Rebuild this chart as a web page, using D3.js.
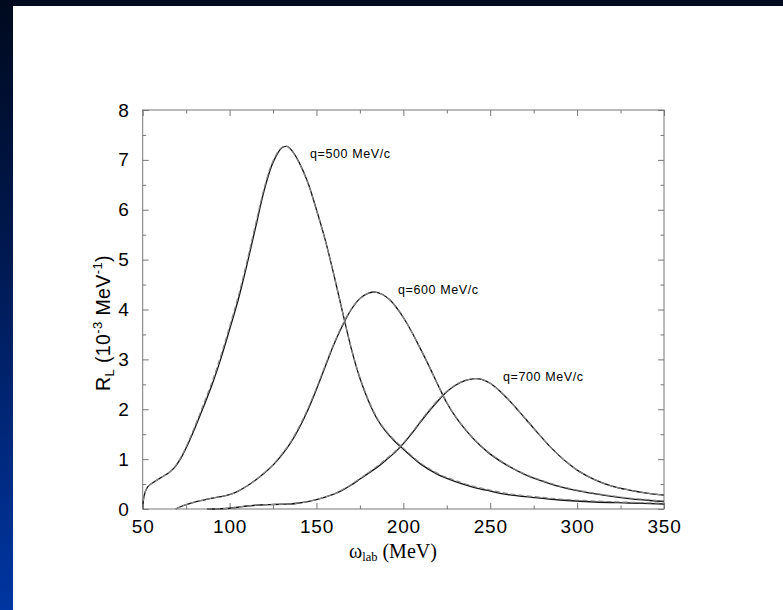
<!DOCTYPE html>
<html>
<head>
<meta charset="utf-8">
<script src="https://cdn.jsdelivr.net/npm/d3@7/dist/d3.min.js"></script>
<style>
  html, body { margin: 0; padding: 0; background: #ffffff; }
  svg { display: block; }
</style>
</head>
<body>
<svg id="chart" width="783" height="610"></svg>
<script>
// Longitudinal response R_L versus lab energy transfer, three momentum transfers.
// Each q has a full (solid) and an approximate (dashed) calculation.

const omega500 = [50, 50.5, 51.5, 53, 56, 60, 64, 68, 72, 76, 80, 85, 90, 95, 100, 105, 110, 115, 120, 125, 130, 133, 136, 140, 145, 150, 155, 160, 165, 170, 175, 180, 185, 190, 195, 200, 210, 220, 230, 240, 250, 260, 275, 290, 310, 330, 350];
const rl500Solid = [0, 0.2, 0.35, 0.45, 0.53, 0.62, 0.7, 0.82, 1.02, 1.3, 1.62, 2.05, 2.5, 3.02, 3.6, 4.2, 4.9, 5.65, 6.4, 6.95, 7.24, 7.27, 7.18, 6.95, 6.55, 6.0, 5.4, 4.7, 3.95, 3.22, 2.62, 2.16, 1.8, 1.55, 1.36, 1.2, 0.9, 0.69, 0.55, 0.44, 0.36, 0.29, 0.23, 0.18, 0.14, 0.12, 0.10];
const rl500Dashed = [0, 0.2, 0.35, 0.45, 0.53, 0.62, 0.7, 0.83, 1.04, 1.33, 1.66, 2.1, 2.56, 3.08, 3.66, 4.27, 4.97, 5.72, 6.45, 6.98, 7.25, 7.27, 7.17, 6.94, 6.54, 5.99, 5.39, 4.69, 3.95, 3.23, 2.64, 2.18, 1.82, 1.57, 1.38, 1.22, 0.92, 0.71, 0.57, 0.46, 0.38, 0.31, 0.25, 0.2, 0.16, 0.135, 0.115];

const omega600 = [69, 72, 76, 80, 85, 90, 95, 100, 105, 110, 115, 120, 125, 130, 135, 140, 145, 150, 155, 160, 165, 170, 175, 180, 184, 188, 192, 196, 200, 205, 210, 215, 220, 225, 230, 235, 240, 245, 250, 260, 270, 280, 290, 300, 315, 330, 350];
const rl600Solid = [0, 0.05, 0.1, 0.14, 0.18, 0.22, 0.25, 0.29, 0.36, 0.46, 0.58, 0.72, 0.88, 1.08, 1.32, 1.62, 1.98, 2.4, 2.85, 3.3, 3.68, 4.0, 4.22, 4.33, 4.35, 4.3, 4.2, 4.04, 3.84, 3.54, 3.2, 2.85, 2.48, 2.13, 1.85, 1.62, 1.42, 1.25, 1.1, 0.87, 0.69, 0.56, 0.45, 0.37, 0.28, 0.21, 0.15];
const rl600Dashed = [0, 0.05, 0.1, 0.14, 0.18, 0.22, 0.25, 0.29, 0.36, 0.46, 0.58, 0.73, 0.89, 1.1, 1.34, 1.65, 2.01, 2.43, 2.88, 3.32, 3.7, 4.01, 4.22, 4.33, 4.35, 4.3, 4.2, 4.04, 3.84, 3.54, 3.2, 2.85, 2.48, 2.14, 1.86, 1.63, 1.43, 1.26, 1.11, 0.88, 0.7, 0.57, 0.46, 0.38, 0.29, 0.22, 0.16];

const omega700 = [87, 95, 100, 105, 110, 115, 120, 125, 130, 135, 140, 145, 150, 155, 160, 165, 170, 175, 180, 185, 190, 195, 200, 205, 210, 215, 220, 225, 230, 235, 240, 245, 250, 255, 260, 265, 270, 275, 280, 285, 290, 295, 300, 310, 320, 330, 340, 350];
const rl700Solid = [0, 0.005, 0.015, 0.035, 0.06, 0.075, 0.085, 0.09, 0.095, 0.1, 0.12, 0.15, 0.19, 0.24, 0.3, 0.38, 0.48, 0.6, 0.72, 0.84, 0.98, 1.13, 1.31, 1.52, 1.75, 1.97, 2.17, 2.35, 2.48, 2.57, 2.61, 2.6, 2.52, 2.38, 2.21, 2.02, 1.82, 1.62, 1.42, 1.23, 1.06, 0.91, 0.78, 0.59, 0.46, 0.38, 0.32, 0.28];
const rl700Dashed = [0, 0.005, 0.015, 0.035, 0.06, 0.075, 0.085, 0.09, 0.095, 0.1, 0.12, 0.15, 0.19, 0.24, 0.3, 0.39, 0.49, 0.61, 0.73, 0.86, 1.0, 1.15, 1.33, 1.54, 1.77, 1.99, 2.19, 2.36, 2.49, 2.57, 2.61, 2.6, 2.52, 2.38, 2.21, 2.02, 1.82, 1.62, 1.42, 1.23, 1.06, 0.91, 0.78, 0.59, 0.46, 0.38, 0.32, 0.28];

const curveLabels = ["q=500 MeV/c", "q=600 MeV/c", "q=700 MeV/c"];
const curveLabelAt = [[130, 7.27], [184, 4.35], [240, 2.61]];   // peak each label sits beside

const xTicks = [50, 100, 150, 200, 250, 300, 350];
const xMinorTicks = [75, 125, 175, 225, 275, 325];
const yTicks = [0, 1, 2, 3, 4, 5, 6, 7, 8];
const yMinorTicks = [0.5, 1.5, 2.5, 3.5, 4.5, 5.5, 6.5, 7.5];

const W = 783, H = 610;
const plot = { left: 142.7, right: 664, top: 110, bottom: 509 };

const svg = d3.select("#chart");

// slide backdrop: dark band on top, blue gradient strip on the left
const defs = svg.append("defs");
const grad = defs.append("linearGradient").attr("id", "sideGrad")
  .attr("x1", 0).attr("y1", 0).attr("x2", 0).attr("y2", 1);
grad.append("stop").attr("offset", "0%").attr("stop-color", "#000a1e");
grad.append("stop").attr("offset", "45%").attr("stop-color", "#001a55");
grad.append("stop").attr("offset", "100%").attr("stop-color", "#0036a2");

svg.append("rect").attr("width", W).attr("height", H).attr("fill", "#ffffff");
svg.append("rect").attr("x", 0).attr("y", 0).attr("width", W).attr("height", 6).attr("fill", "#000a1e");
svg.append("rect").attr("x", 0).attr("y", 0).attr("width", 13).attr("height", H).attr("fill", "url(#sideGrad)");

const x = d3.scaleLinear().domain([50, 350]).range([plot.left, plot.right]);
const y = d3.scaleLinear().domain([0, 8]).range([plot.bottom, plot.top]);

const tickColor = "#777";
const labelFont = "'Liberation Sans', Arial, Helvetica, sans-serif";

function styleAxis(g) {
  g.select(".domain").remove();
  g.selectAll(".tick line").attr("stroke", tickColor).attr("stroke-width", 1);
  g.selectAll(".tick text").attr("fill", "#000").attr("font-family", labelFont)
    .attr("font-size", 19).attr("letter-spacing", "0.8px");
}

// major ticks with labels (bottom, left), inward ticks on all four sides
svg.append("g").attr("transform", `translate(0,${plot.bottom})`)
  .call(d3.axisBottom(x).tickValues(xTicks).tickSize(-6).tickPadding(10.5).tickFormat(d3.format("d")))
  .call(styleAxis);
svg.append("g").attr("transform", `translate(${plot.left},0)`)
  .call(d3.axisLeft(y).tickValues(yTicks).tickSize(-6).tickPadding(13).tickFormat(d3.format("d")))
  .call(styleAxis);
svg.append("g").attr("transform", `translate(0,${plot.top})`)
  .call(d3.axisTop(x).tickValues(xTicks).tickSize(-6).tickFormat(""))
  .call(styleAxis);
svg.append("g").attr("transform", `translate(${plot.right},0)`)
  .call(d3.axisRight(y).tickValues(yTicks).tickSize(-6).tickFormat(""))
  .call(styleAxis);

// minor ticks
svg.append("g").attr("transform", `translate(0,${plot.bottom})`)
  .call(d3.axisBottom(x).tickValues(xMinorTicks).tickSize(-3.5).tickFormat(""))
  .call(styleAxis);
svg.append("g").attr("transform", `translate(0,${plot.top})`)
  .call(d3.axisTop(x).tickValues(xMinorTicks).tickSize(-3.5).tickFormat(""))
  .call(styleAxis);
svg.append("g").attr("transform", `translate(${plot.left},0)`)
  .call(d3.axisLeft(y).tickValues(yMinorTicks).tickSize(-3.5).tickFormat(""))
  .call(styleAxis);
svg.append("g").attr("transform", `translate(${plot.right},0)`)
  .call(d3.axisRight(y).tickValues(yMinorTicks).tickSize(-3.5).tickFormat(""))
  .call(styleAxis);

// frame
svg.append("rect")
  .attr("x", plot.left).attr("y", plot.top)
  .attr("width", plot.right - plot.left).attr("height", plot.bottom - plot.top)
  .attr("fill", "none").attr("stroke", tickColor).attr("stroke-width", 1);

// curves
const line = d3.line().x(d => x(d[0])).y(d => y(d[1])).curve(d3.curveCatmullRom.alpha(0.5));
const series = [
  [omega500, rl500Solid, rl500Dashed],
  [omega600, rl600Solid, rl600Dashed],
  [omega700, rl700Solid, rl700Dashed]
];
const curves = svg.append("g").attr("fill", "none");
series.forEach(([om, solid]) => {
  curves.append("path").datum(om.map((w, i) => [w, solid[i]]))
    .attr("d", line).attr("stroke", "#111").attr("stroke-width", 1.3);
});
series.forEach(([om, , dashed]) => {
  curves.append("path").datum(om.map((w, i) => [w, dashed[i]]))
    .attr("d", line).attr("stroke", "#8a8a8a").attr("stroke-width", 1.2)
    .attr("stroke-dasharray", "5,3");
});

// curve labels, placed to the right of each peak
const labelOffset = [[310 - x(130), 158 - y(7.27)], [398 - x(184), 294 - y(4.35)], [503 - x(240), 381 - y(2.61)]];
svg.append("g").selectAll("text").data(curveLabels).join("text")
  .attr("x", (d, i) => x(curveLabelAt[i][0]) + labelOffset[i][0])
  .attr("y", (d, i) => y(curveLabelAt[i][1]) + labelOffset[i][1])
  .attr("font-family", labelFont).attr("font-size", 12.5).attr("letter-spacing", "0.6px")
  .attr("fill", "#000").text(d => d);

// x-axis title: ω_lab (MeV)
const xt = svg.append("text").attr("x", 349).attr("y", 558)
  .attr("font-family", "'Liberation Serif', 'Times New Roman', serif").attr("font-size", 20).attr("fill", "#000");
xt.append("tspan").text("ω");
xt.append("tspan").attr("font-size", 12.5).attr("dy", 3).text("lab");
xt.append("tspan").attr("dy", -3).text(" (MeV)");

// y-axis title: R_L (10^-3 MeV^-1)
const yt = svg.append("text").attr("transform", "translate(110,323) rotate(-90)")
  .attr("text-anchor", "middle").attr("font-family", labelFont).attr("font-size", 19.5)
  .attr("letter-spacing", "0.4px").attr("fill", "#000");
yt.append("tspan").text("R");
yt.append("tspan").attr("font-size", 13).attr("dy", 4).text("L");
yt.append("tspan").attr("dy", -4).text(" (10");
yt.append("tspan").attr("font-size", 13).attr("dy", -8).text("-3");
yt.append("tspan").attr("dy", 8).text(" MeV");
yt.append("tspan").attr("font-size", 13).attr("dy", -8).text("-1");
yt.append("tspan").attr("dy", 8).text(")");
</script>
</body>
</html>
